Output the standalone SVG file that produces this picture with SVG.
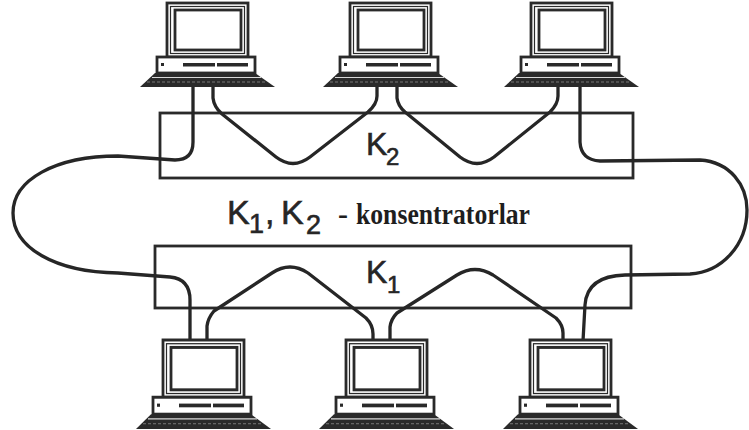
<svg xmlns="http://www.w3.org/2000/svg" xmlns:xlink="http://www.w3.org/1999/xlink" width="749" height="430" viewBox="0 0 749 430">
  <style>
    .cable { fill: none; stroke: #262626; stroke-width: 3.3; stroke-linecap: round; stroke-linejoin: round; }
    .hub { fill: none; stroke: #2a2a2a; stroke-width: 2.8; }
    .frame { fill: #fff; stroke: #2a2a2a; stroke-width: 2.8; }
    .thin { fill: none; stroke: #2a2a2a; stroke-width: 1.2; }
    .dark { fill: #2a2a2a; }
    .sans { font-family: "Liberation Sans", Arial, sans-serif; fill: #262626; stroke: #262626; stroke-width: 0.6; }
    .serif { font-family: "Liberation Serif", "Times New Roman", serif; font-weight: bold; fill: #1e1e1e; }
  </style>
  <defs>
    <!-- workstation: monitor, system unit, keyboard; origin = centre of monitor top -->
    <g id="pc">
      <rect class="frame" x="-40" y="0" width="81" height="54"/>
      <rect class="thin" x="-36.5" y="3.5" width="74" height="47"/>
      <rect class="frame" x="-32" y="7" width="66" height="40" stroke-width="1.8"/>
      <rect class="frame" x="-50" y="54" width="98" height="16"/>
      <rect class="dark" x="-46" y="60" width="3" height="3"/>
      <rect class="dark" x="-24" y="60" width="32" height="3.5"/>
      <rect class="dark" x="10" y="60" width="31" height="3.5"/>
      <polygon class="dark" points="-52,70 48,70 68,84 -67,84"/>
      <line x1="-55" y1="74.5" x2="54" y2="74.5" stroke="#d8d8d8" stroke-width="1.2"/>
      <line x1="-60" y1="79" x2="60" y2="79" stroke="#8a8a8a" stroke-width="0.8" stroke-dasharray="3 2"/>
    </g>
  </defs>

  <rect width="749" height="430" fill="#fff"/>

  <!-- concentrators -->
  <g id="hub-k2">
    <rect class="hub" x="160" y="113" width="473" height="65"/>
    <text class="sans" x="366" y="155" font-size="32">K</text>
    <text class="sans" x="386" y="165" font-size="24">2</text>
  </g>
  <g id="hub-k1">
    <rect class="hub" x="155" y="246" width="476" height="62"/>
    <text class="sans" x="366" y="283" font-size="32">K</text>
    <text class="sans" x="387" y="293" font-size="24">1</text>
  </g>

  <!-- cabling -->
  <g id="connectors">
    <!-- left ring segment: top-left PC to bottom-left PC -->
    <path class="cable" d="M193,87 L193,142 Q193,160 175,160 L118,156 C55,156 13,180 13,213 C13,248 55,272 118,273 L170,277 Q190,279 190,300 L190,341"/>
    <!-- right ring segment: top-right PC to bottom-right PC -->
    <path class="cable" d="M580,87 L580,142 Q581,160 600,161 L700,160 C730,162 747,185 747,210 C747,245 722,272 690,274 L625,275 Q587,276 585,305 L583,341"/>
    <!-- K2 internal links -->
    <path class="cable" d="M213,87 L213,98 Q214,107 222,114 L276,157 Q293,170 310,157 L368,112 Q377,104 377,96 L377,87"/>
    <path class="cable" d="M397,87 L397,98 Q398,106 405,112 L460,157 Q477,170 494,157 L550,112 Q558,104 558,96 L558,87"/>
    <!-- K1 internal links -->
    <path class="cable" d="M207,341 L207,326 Q208,318 214,311 L272,273 Q290,261 308,273 L366,318 Q373,325 373,334 L373,341"/>
    <path class="cable" d="M390,341 L390,327 Q391,319 397,313 L457,275 Q475,264 493,275 L556,318 Q563,325 563,333 L563,341"/>
  </g>

  <!-- workstations -->
  <g id="pc-top-1"><use xlink:href="#pc" transform="translate(207,3)"/></g>
  <g id="pc-top-2"><use xlink:href="#pc" transform="translate(390,3)"/></g>
  <g id="pc-top-3"><use xlink:href="#pc" transform="translate(571,3)"/></g>
  <g id="pc-bottom-1"><use xlink:href="#pc" transform="translate(203,340) scale(1,1.06)"/></g>
  <g id="pc-bottom-2"><use xlink:href="#pc" transform="translate(386,340) scale(1,1.06)"/></g>
  <g id="pc-bottom-3"><use xlink:href="#pc" transform="translate(570,340) scale(1,1.06)"/></g>

  <!-- legend -->
  <g id="legend">
    <text class="sans" x="227" y="224" font-size="34">K</text>
    <text class="sans" x="249" y="233" font-size="27">1</text>
    <text class="sans" x="265" y="224" font-size="34">,</text>
    <text class="sans" x="281" y="224" font-size="34">K</text>
    <text class="sans" x="306" y="234" font-size="27">2</text>
    <text class="serif" x="338" y="224" font-size="30">-</text>
    <text class="serif" x="356" y="224" font-size="30" textLength="174" lengthAdjust="spacingAndGlyphs">konsentratorlar</text>
  </g>
</svg>
